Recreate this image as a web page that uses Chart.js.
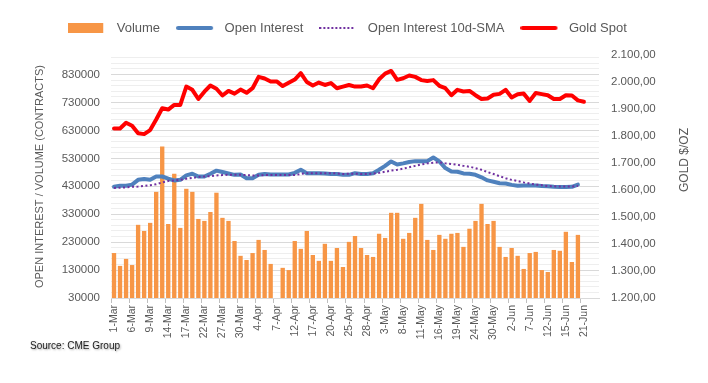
<!DOCTYPE html>
<html>
<head>
<meta charset="utf-8">
<script src="https://cdn.jsdelivr.net/npm/chart.js@4"></script>
<style>
  html, body { margin: 0; padding: 0; background: #ffffff; }
  #wrap { position: relative; width: 708px; height: 383px; }
  #source { position: absolute; left: 30px; top: 340px; font: 10px "Liberation Sans", Arial, sans-serif; color: #1a1a1a; text-shadow: 1px 1px 2px rgba(0,0,0,0.35); white-space: nowrap; }
</style>
</head>
<body>
<div id="wrap">
  <canvas id="c" width="708" height="383"></canvas>
  <div id="source">Source: CME Group</div>
</div>
<script>
// ---- data ----
const categories = [
  '1-Mar','2-Mar','3-Mar','6-Mar','7-Mar','8-Mar','9-Mar','10-Mar','13-Mar','14-Mar','15-Mar','16-Mar','17-Mar','20-Mar','21-Mar','22-Mar','23-Mar','24-Mar','27-Mar','28-Mar','29-Mar','30-Mar','31-Mar',
  '3-Apr','4-Apr','5-Apr','6-Apr','7-Apr','10-Apr','11-Apr','12-Apr','13-Apr','14-Apr','17-Apr','18-Apr','19-Apr','20-Apr','21-Apr','24-Apr','25-Apr','26-Apr','27-Apr','28-Apr',
  '1-May','2-May','3-May','4-May','5-May','8-May','9-May','10-May','11-May','12-May','15-May','16-May','17-May','18-May','19-May','22-May','23-May','24-May','25-May','26-May','30-May','31-May',
  '1-Jun','2-Jun','5-Jun','6-Jun','7-Jun','8-Jun','9-Jun','12-Jun','13-Jun','14-Jun','15-Jun','16-Jun','20-Jun','21-Jun','22-Jun','23-Jun'
];
const volume = [
  191000,145000,170000,148000,292000,270000,299000,410000,572000,295000,
  475000,281000,421000,410000,313000,306000,338000,407000,317000,306000,
  234000,181000,166000,191000,238000,202000,152000,null,138000,130000,
  234000,206000,270000,184000,163000,224000,163000,209000,141000,231000,
  252000,209000,184000,177000,260000,245000,335000,335000,242000,263000,
  317000,367000,238000,202000,256000,242000,260000,263000,213000,278000,
  306000,367000,295000,306000,213000,177000,209000,181000,134000,191000,
  195000,130000,123000,202000,199000,267000,159000,256000
];
const openInterest = [
  428000,432000,432000,436000,453000,456000,453000,465000,465000,457000,
  451000,453000,469000,475000,465000,465000,475000,486000,481000,476000,
  471000,472000,459000,459000,471000,474000,472000,472000,472000,472000,
  478000,489000,477000,477000,477000,476000,474000,474000,471000,471000,
  477000,474000,474000,477000,489000,503000,519000,508000,512000,517000,
  520000,520000,520000,533000,519000,495000,483000,482000,476000,475000,
  471000,462000,451000,446000,441000,440000,435000,432000,433000,433000,
  433000,431000,430000,428000,427000,427000,428000,436000
];
const openInterestSMA = [
  424000,425000,426000,428000,429000,431000,434000,437000,444000,449000,
  451000,453000,457000,460000,463000,465000,466000,469000,470000,471000,
  471000,471000,470000,469000,469000,470000,470000,470000,470000,470000,
  470000,474000,477000,477000,477000,477000,477000,476000,474000,475000,
  475000,474000,474000,475000,478000,482000,486000,489000,493000,498000,
  503000,508000,512000,514000,516000,512000,510000,507000,503000,500000,
  495000,489000,481000,474000,466000,459000,453000,449000,444000,440000,
  436000,434000,431000,430000,429000,429000,429000,431000
];
const goldSpot = [
  1828,1828,1849,1838,1810,1807,1822,1861,1903,1898,
  1915,1915,1983,1971,1937,1964,1987,1975,1950,1967,
  1957,1972,1960,1977,2019,2013,2002,2002,1985,1997,
  2009,2033,2000,1987,1998,1989,1996,1977,1983,1989,
  1983,1983,1987,1977,2010,2031,2041,2008,2014,2024,
  2019,2007,2004,2007,1986,1977,1951,1971,1965,1967,
  1951,1937,1939,1953,1956,1971,1943,1955,1957,1930,
  1959,1955,1951,1937,1937,1951,1950,1932,1927
];
const leftTicks = [];
for (let v = 30000; v <= 890000; v += 20000) leftTicks.push(v);
const seriesNames = ['Volume', 'Open Interest', 'Open Interest 10d-SMA', 'Gold Spot'];

// ---- styling ----
const FONT = '"Liberation Sans", Arial, sans-serif';
const TXT = '#595959';
Chart.defaults.font.family = FONT;
Chart.defaults.color = TXT;

function swatch(draw) {
  const c = document.createElement('canvas');
  c.width = 42; c.height = 12;
  const g = c.getContext('2d');
  draw(g);
  return c;
}
const swatches = [
  swatch(g => { g.fillStyle = '#F79646'; g.fillRect(0, 1, 35, 10); }),
  swatch(g => { g.strokeStyle = '#4F81BD'; g.lineWidth = 4; g.lineCap = 'round'; g.beginPath(); g.moveTo(2, 6); g.lineTo(35, 6); g.stroke(); }),
  swatch(g => { g.strokeStyle = '#7030A0'; g.lineWidth = 2; g.setLineDash([2, 2]); g.beginPath(); g.moveTo(0, 6); g.lineTo(36, 6); g.stroke(); }),
  swatch(g => { g.strokeStyle = '#FF0000'; g.lineWidth = 4; g.lineCap = 'round'; g.beginPath(); g.moveTo(2, 6); g.lineTo(35, 6); g.stroke(); })
];

function fmtGold(v) {
  const s = Math.round(v).toString().replace(/\B(?=(\d{3})+(?!\d))/g, '.');
  return s + ',00';
}

const rightTitle = {
  id: 'rightTitle',
  afterDraw(chart) {
    const ctx = chart.ctx;
    ctx.save();
    ctx.translate(685, 160);
    ctx.rotate(-Math.PI / 2);
    ctx.font = '12px ' + FONT;
    ctx.fillStyle = TXT;
    ctx.textAlign = 'center';
    ctx.textBaseline = 'middle';
    ctx.fillText('GOLD $/OZ', 0, 0);
    ctx.restore();
  }
};

new Chart(document.getElementById('c'), {
  type: 'bar',
  data: {
    labels: categories,
    datasets: [
      { type: 'bar', label: seriesNames[0], data: volume, backgroundColor: '#F79646', borderWidth: 0,
        barPercentage: 0.72, categoryPercentage: 1.0, xAxisID: 'x', yAxisID: 'y', order: 4 },
      { type: 'line', label: seriesNames[1], data: openInterest, borderColor: '#4F81BD', borderWidth: 4,
        pointRadius: 0, fill: false, tension: 0, borderJoinStyle: 'round', borderCapStyle: 'round', xAxisID: 'x', yAxisID: 'y', order: 3 },
      { type: 'line', label: seriesNames[2], data: openInterestSMA, borderColor: '#7030A0', borderWidth: 2,
        borderDash: [2, 2.5], pointRadius: 0, fill: false, tension: 0, xAxisID: 'x', yAxisID: 'y', order: 2 },
      { type: 'line', label: seriesNames[3], data: goldSpot, borderColor: '#FF0000', borderWidth: 4,
        pointRadius: 0, fill: false, tension: 0, borderJoinStyle: 'round', borderCapStyle: 'round', xAxisID: 'x', yAxisID: 'y2', order: 1 }
    ]
  },
  options: {
    responsive: false,
    animation: false,
    devicePixelRatio: 1,
    layout: { padding: { top: 5.5, right: 13, left: 0, bottom: 0 } },
    plugins: {
      tooltip: { enabled: false },
      legend: {
        position: 'top',
        labels: {
          usePointStyle: true,
          pointStyleWidth: 42,
          boxHeight: 12,
          padding: 16,
          color: TXT,
          font: { size: 13, family: FONT },
          generateLabels(chart) {
            return chart.data.datasets.map((ds, i) => ({
              text: ds.label, pointStyle: swatches[i], datasetIndex: i, hidden: false,
              fillStyle: 'transparent', strokeStyle: 'transparent', lineWidth: 0, fontColor: TXT
            }));
          }
        }
      }
    },
    scales: {
      x: {
        type: 'category',
        position: 'bottom',
        offset: true,
        afterFit(s) { s.height = 85; },
        border: { display: true, color: '#d9d9d9', width: 1 },
        grid: {
          offset: true,
          drawOnChartArea: false,
          drawTicks: true,
          tickLength: 5,
          color: (c) => (c.index % 3 === 0 ? '#bfbfbf' : 'rgba(0,0,0,0)')
        },
        ticks: {
          autoSkip: false,
          minRotation: 90,
          maxRotation: 90,
          padding: 2,
          color: TXT,
          font: { size: 10.5, family: FONT },
          callback(val, index) { return index % 3 === 0 ? this.getLabelForValue(val) : ''; }
        }
      },
      xTop: {
        type: 'category',
        position: 'top',
        display: true,
        grid: { display: false },
        border: { display: false },
        ticks: { display: false },
        afterFit(s) { s.height = 10.5; }
      },
      y: {
        type: 'linear',
        position: 'left',
        min: 30000,
        max: 900000,
        afterFit(s) { s.width = 111; },
        afterBuildTicks(s) { s.ticks = leftTicks.map(v => ({ value: v })); },
        border: { display: false },
        grid: {
          drawTicks: false,
          color: (c) => (c.tick && (c.tick.value - 30000) % 100000 === 0 ? '#d9d9d9' : '#eeeeee')
        },
        ticks: {
          autoSkip: false,
          padding: 11,
          color: TXT,
          font: { size: 11.5, family: FONT },
          callback: (v) => ((v - 30000) % 100000 === 0 ? String(v) : '')
        },
        title: {
          display: true,
          text: 'OPEN INTEREST / VOLUME (CONTRACTS)',
          color: TXT,
          font: { size: 11, family: FONT },
          padding: { top: 33.4, bottom: 0 }
        }
      },
      y2: {
        type: 'linear',
        position: 'right',
        min: 1200,
        max: 2100,
        afterFit(s) { s.width = 96; },
        border: { display: false },
        grid: { display: false, drawTicks: false },
        ticks: {
          stepSize: 100,
          autoSkip: false,
          padding: 12,
          color: TXT,
          font: { size: 11.5, family: FONT },
          callback: (v) => fmtGold(v)
        }
      }
    }
  },
  plugins: [rightTitle]
});
</script>
</body>
</html>
